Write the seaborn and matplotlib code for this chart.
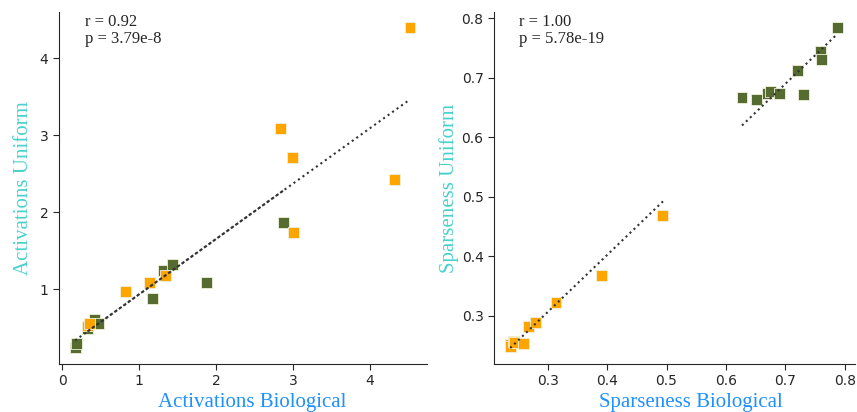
import numpy as np
import pandas as pd
import matplotlib
matplotlib.use("Agg")
import matplotlib.pyplot as plt
import seaborn as sns

# ---- data ----
act_bio_green = [0.17, 0.19, 0.33, 0.42, 0.48, 1.18, 1.32, 1.44, 1.88, 2.88]
act_uni_green = [0.24, 0.29, 0.49, 0.60, 0.55, 0.88, 1.24, 1.32, 1.08, 1.87]
act_bio_orange = [0.33, 0.36, 0.83, 1.13, 1.34, 2.84, 2.99, 3.01, 4.32, 4.52]
act_uni_orange = [0.52, 0.55, 0.97, 1.09, 1.18, 3.09, 2.71, 1.73, 2.43, 4.40]

sp_bio_green = [0.627, 0.651, 0.669, 0.675, 0.690, 0.720, 0.731, 0.759, 0.760, 0.787]
sp_uni_green = [0.666, 0.663, 0.674, 0.677, 0.673, 0.712, 0.672, 0.744, 0.731, 0.785]
sp_bio_orange = [0.237, 0.238, 0.242, 0.245, 0.259, 0.268, 0.279, 0.314, 0.391, 0.494]
sp_uni_orange = [0.252, 0.248, 0.257, 0.255, 0.254, 0.282, 0.288, 0.323, 0.368, 0.469]

stats_text = ["r = 0.92\np = 3.79e-8", "r = 1.00\np = 5.78e-19"]
x_labels = ["Activations Biological", "Sparseness Biological"]
y_labels = ["Activations Uniform", "Sparseness Uniform"]
x_ticks = [[0, 1, 2, 3, 4], [0.3, 0.4, 0.5, 0.6, 0.7, 0.8]]
y_ticks = [[1, 2, 3, 4], [0.3, 0.4, 0.5, 0.6, 0.7, 0.8]]

sns.set_style("ticks")
plt.rcParams["font.family"] = ["DejaVu Sans"]

GREEN = "#556B2F"
ORANGE = "#FFA500"

fig = plt.figure(figsize=(8.57, 4.12), dpi=100)
ax1 = fig.add_axes([0.0688, 0.1165, 0.4294, 0.854])
ax2 = fig.add_axes([0.5764, 0.1165, 0.4212, 0.854])

panels = [
    (ax1, act_bio_green, act_uni_green, act_bio_orange, act_uni_orange,
     (-0.04, 4.74), (0.026, 4.6), 0.524, 5),
    (ax2, sp_bio_green, sp_uni_green, sp_bio_orange, sp_uni_orange,
     (0.2097, 0.817), (0.219, 0.81), 0.546, 1.5),
]

for i, (ax, xg, yg, xo, yo, xl, yl, xlab_x, ypad) in enumerate(panels):
    df = pd.DataFrame({
        "x": xg + xo,
        "y": yg + yo,
        "group": ["g"] * len(xg) + ["o"] * len(xo),
    })
    sns.scatterplot(data=df, x="x", y="y", hue="group",
                    palette={"g": GREEN, "o": ORANGE}, marker="s", s=62,
                    edgecolor="#f0f0dc", linewidth=0.6, legend=False, ax=ax,
                    zorder=3)
    coef = np.polyfit(df["x"], df["y"], 1)
    fit = np.poly1d(coef)
    for xs in (xg, xo):
        xs = np.array(xs)
        ax.plot(xs, fit(xs), linestyle=":", color="#333333", linewidth=1.5,
                zorder=4)
    ax.set_xlim(*xl)
    ax.set_ylim(*yl)
    ax.set_xticks(x_ticks[i])
    ax.set_yticks(y_ticks[i])
    ax.tick_params(labelsize=10, length=4)
    ax.set_xlabel(x_labels[i], color="#1E90FF", fontsize=15,
                  family="Liberation Serif", labelpad=3, x=xlab_x)
    ax.set_ylabel(y_labels[i], color="#48D1CC", fontsize=15,
                  family="Liberation Serif", labelpad=ypad)
    ax.text(0.07, 0.995, stats_text[i], transform=ax.transAxes, va="top",
            ha="left", fontsize=12, family="Liberation Serif",
            linespacing=1.05)
    sns.despine(ax=ax)

fig.savefig("out.png", dpi=100)
